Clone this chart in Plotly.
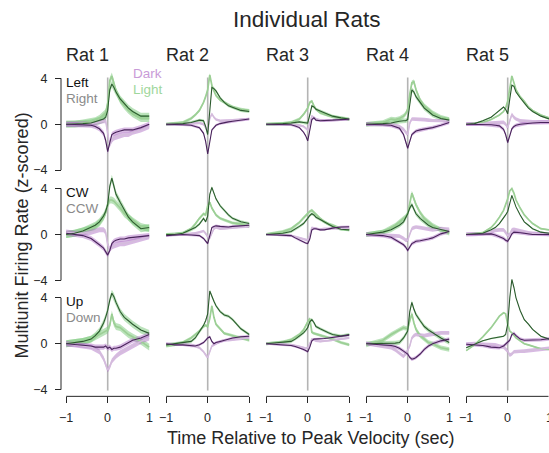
import plotly.graph_objects as go

# ---------------- data ----------------
TIME = [-1, -0.8, -0.6, -0.4, -0.3, -0.2, -0.1, -0.05, 0, 0.05, 0.1, 0.15, 0.2, 0.3, 0.4, 0.5, 0.6, 0.8, 1.0]
RATS = ["Rat 1", "Rat 2", "Rat 3", "Rat 4", "Rat 5"]
X_TICKS = [-1, 0, 1]
X_TICK_TEXT = ["\u22121", "0", "1"]
Y_TICKS = [-4, 0, 4]
Y_TICK_TEXT = ["\u22124", "0", "4"]
ROW_LABELS = [("Left", "Right"), ("CW", "CCW"), ("Up", "Down")]

# la = Light / first direction, lb = Light / second direction,
# da = Dark / first direction,  db = Dark / second direction
ROW_LEFT_RIGHT = {
    "Rat 1": {
        "la": [0, 0, 0.05, 0.1, 0.2, 0.3, 0.45, 0.6, 1.2, 3.0, 3.5, 3.2, 2.8, 2.2, 1.8, 1.4, 1.1, 0.7, 0.7],
        "lb": [0, 0, 0.1, 0.2, 0.3, 0.5, 0.8, 1.0, 1.8, 3.8, 4.2, 3.6, 2.9, 2.1, 1.6, 1.2, 0.9, 0.5, 0.5],
        "da": [0, 0, -0.05, -0.1, -0.2, -0.4, -0.8, -1.4, -2.4, -1.6, -0.9, -0.8, -0.7, -0.6, -0.5, -0.5, -0.5, -0.3, 0.0],
        "db": [0, 0, 0, 0.05, 0.1, 0.2, 0.3, 0.3, -0.8, -1.8, -1.4, -1.2, -1.1, -1.0, -0.9, -0.9, -0.7, -0.5, -0.2],
    },
    "Rat 2": {
        "la": [0, 0, 0.05, 0.15, 0.25, 0.35, 0.3, -0.2, -0.9, 1.5, 3.2, 3.1, 2.9, 2.3, 1.9, 1.6, 1.45, 1.2, 1.1],
        "lb": [0, 0.05, 0.15, 0.5, 0.8, 1.2, 1.9, 2.4, 3.0, 4.3, 3.4, 2.9, 2.5, 2.1, 1.9, 1.7, 1.5, 1.3, 1.2],
        "da": [0, 0, -0.05, -0.1, -0.2, -0.3, -0.8, -1.5, -2.6, -1.4, -0.5, -0.3, -0.1, 0.05, 0.15, 0.2, 0.25, 0.35, 0.45],
        "db": [0, 0, 0, 0.05, 0.1, 0.1, 0, -0.3, -0.6, 0.5, 0.9, 0.6, 0.4, 0.3, 0.3, 0.3, 0.35, 0.4, 0.45],
    },
    "Rat 3": {
        "la": [0, 0, 0.05, 0.1, 0.15, 0.2, 0.15, 0.1, 0.1, 0.8, 1.6, 1.5, 1.3, 1.15, 1.0, 0.85, 0.7, 0.55, 0.45],
        "lb": [0, 0, 0.05, 0.15, 0.3, 0.45, 0.85, 1.1, 1.4, 1.9, 2.0, 1.6, 1.3, 1.0, 0.85, 0.75, 0.65, 0.5, 0.4],
        "da": [0, 0, -0.05, -0.05, -0.15, -0.3, -0.7, -1.0, -1.45, -0.6, 0.4, 0.55, 0.35, 0.3, 0.3, 0.35, 0.35, 0.4, 0.43],
        "db": [0, 0, 0, 0, -0.05, -0.1, -0.2, -0.35, -0.5, 0.1, 0.7, 0.6, 0.45, 0.35, 0.3, 0.3, 0.35, 0.4, 0.43],
    },
    "Rat 4": {
        "la": [0, 0, 0.05, 0.1, 0.2, 0.25, 0.3, 0.3, 0.4, 1.8, 3.0, 2.8, 2.4, 1.9, 1.4, 1.1, 0.8, 0.5, 0.35],
        "lb": [0, 0.1, 0.15, 0.45, 0.4, 0.5, 0.7, 0.9, 1.3, 2.6, 3.6, 3.7, 3.0, 2.1, 1.6, 1.3, 1.0, 0.6, 0.4],
        "da": [0, 0, -0.05, -0.1, -0.2, -0.35, -0.9, -1.5, -2.1, -1.5, -0.9, -0.75, -0.6, -0.5, -0.45, -0.35, -0.3, -0.1, 0.15],
        "db": [0, 0, 0, -0.05, -0.1, -0.2, -0.45, -0.7, -0.9, 0.1, 0.45, 0.45, 0.45, 0.4, 0.4, 0.35, 0.3, 0.3, 0.3],
    },
    "Rat 5": {
        "la": [0, 0.05, 0.3, 0.6, 0.9, 1.2, 1.5, 1.3, 0.9, 2.2, 3.4, 3.3, 2.8, 2.3, 1.8, 1.4, 1.1, 0.7, 0.45],
        "lb": [0, 0.05, 0.15, 0.4, 0.6, 0.8, 1.1, 1.4, 2.0, 3.2, 4.2, 3.6, 3.0, 2.4, 2.0, 1.5, 1.2, 0.8, 0.55],
        "da": [0, 0, 0, -0.05, -0.1, -0.15, -0.45, -0.9, -1.6, -1.0, -0.4, -0.2, -0.1, 0, 0.05, 0.1, 0.1, 0.15, 0.15],
        "db": [0, 0, 0.05, 0.1, 0.1, 0.15, 0.15, 0.0, -0.3, 0.3, 0.85, 0.6, 0.45, 0.3, 0.25, 0.2, 0.2, 0.2, 0.2],
    },
}

ROW_CW_CCW = {
    "Rat 1": {
        "la": [0, 0.1, 0.3, 0.6, 0.8, 1.1, 1.6, 2.0, 2.6, 4.2, 4.9, 4.2, 3.5, 2.8, 2.1, 1.5, 1.1, 0.5, 0.6],
        "lb": [0, 0.1, 0.3, 0.5, 0.7, 1.0, 1.5, 1.9, 2.6, 3.0, 3.0, 2.9, 2.7, 2.3, 1.8, 1.5, 1.2, 0.7, 0.5],
        "da": [0.1, 0, -0.1, -0.35, -0.6, -0.9, -1.2, -1.5, -1.8, -1.4, -0.8, -0.6, -0.5, -0.4, -0.4, -0.3, -0.25, -0.2, -0.1],
        "db": [0.2, 0.1, 0.1, 0.2, 0.3, 0.4, 0.4, 0.2, -0.9, -1.3, -1.1, -1.0, -0.9, -0.8, -0.8, -0.7, -0.6, -0.4, -0.2],
    },
    "Rat 2": {
        "la": [0, 0, 0.1, 0.4, 0.6, 0.9, 1.4, 1.1, 1.6, 3.5, 4.1, 3.6, 3.1, 2.5, 2.1, 1.7, 1.4, 1.1, 0.95],
        "lb": [0, 0.05, 0.1, 0.5, 0.9, 1.4, 1.8, 1.7, 2.5, 2.8, 2.3, 2.0, 1.7, 1.4, 1.25, 1.1, 1.0, 0.9, 0.7],
        "da": [-0.1, -0.05, 0, -0.05, -0.05, -0.1, -0.35, -0.6, -0.8, -0.1, 0.6, 0.7, 0.75, 0.7, 0.65, 0.65, 0.7, 0.75, 0.8],
        "db": [-0.1, 0, 0, 0.05, 0.1, 0.2, 0.3, 0.1, -0.2, -0.3, 0.1, 0.5, 0.6, 0.5, 0.5, 0.55, 0.6, 0.65, 0.7],
    },
    "Rat 3": {
        "la": [0, 0.05, 0.1, 0.25, 0.45, 0.7, 0.95, 1.15, 1.4, 1.65, 1.8, 1.7, 1.5, 1.3, 1.1, 0.9, 0.7, 0.45, 0.4],
        "lb": [0, 0.1, 0.25, 0.5, 0.75, 1.05, 1.45, 1.65, 1.8, 2.0, 2.1, 1.95, 1.75, 1.4, 1.1, 0.9, 0.8, 0.5, 0.4],
        "da": [0, -0.05, -0.05, -0.1, -0.3, -0.5, -0.65, -0.75, -0.8, -0.4, 0.4, 0.5, 0.5, 0.4, 0.4, 0.5, 0.55, 0.65, 0.67],
        "db": [0, 0, -0.05, -0.1, -0.2, -0.3, -0.4, -0.5, -0.5, 0.0, 0.6, 0.55, 0.5, 0.45, 0.5, 0.5, 0.55, 0.55, 0.5],
    },
    "Rat 4": {
        "la": [0, 0.1, 0.2, 0.4, 0.6, 0.8, 1.1, 1.4, 1.8, 2.3, 2.6, 2.2, 1.8, 1.4, 1.1, 0.8, 0.6, 0.4, 0.25],
        "lb": [0, 0.1, 0.2, 0.6, 0.8, 1.1, 1.4, 1.55, 1.8, 2.9, 3.6, 3.1, 2.6, 1.9, 1.4, 1.1, 0.8, 0.4, 0.1],
        "da": [0, -0.05, -0.1, -0.25, -0.45, -0.65, -0.9, -1.1, -1.4, -1.1, -0.8, -0.7, -0.6, -0.55, -0.5, -0.4, -0.3, 0.05, 0.25],
        "db": [0, 0, -0.05, -0.1, -0.1, -0.15, -0.35, -0.5, -0.5, 0.1, 0.5, 0.6, 0.65, 0.6, 0.55, 0.45, 0.4, 0.5, 0.45],
    },
    "Rat 5": {
        "la": [0, 0.05, 0.1, 0.4, 0.6, 0.95, 1.4, 1.7, 2.0, 2.8, 3.4, 2.9, 2.4, 1.7, 1.1, 0.8, 0.5, 0.2, 0.1],
        "lb": [0, 0.05, 0.15, 0.6, 1.0, 1.5, 2.1, 2.6, 3.1, 3.8, 4.0, 3.6, 3.0, 2.3, 1.7, 1.3, 0.95, 0.5, 0.4],
        "da": [0, 0, 0.05, 0.05, -0.05, -0.2, -0.35, -0.5, -0.6, -0.3, 0.05, 0.2, 0.2, 0.15, 0.1, 0.05, 0, 0, 0],
        "db": [0, 0, 0.05, 0.2, 0.35, 0.4, 0.4, 0.2, -0.1, 0, 0.4, 0.45, 0.4, 0.3, 0.2, 0.15, 0.1, 0.05, 0],
    },
}

ROW_UP_DOWN = {
    "Rat 1": {
        "la": [0, 0.1, 0.2, 0.4, 0.7, 1.1, 1.8, 2.3, 2.9, 3.8, 4.4, 4.1, 3.6, 2.8, 2.3, 2.0, 1.7, 1.2, 0.9],
        "lb": [0, 0.1, 0.2, 0.4, 0.6, 0.8, 1.0, 1.1, 1.2, 1.6, 2.6, 1.8, 1.5, 1.4, 1.1, 0.8, 0.6, 0.2, -0.3],
        "da": [0, -0.05, -0.1, -0.2, -0.3, -0.3, -0.3, -0.2, -0.4, -0.3, -0.5, -0.4, -0.4, -0.3, -0.1, 0.1, 0.3, 0.5, 0.8],
        "db": [0, -0.1, -0.2, -0.3, -0.5, -0.7, -1.3, -1.8, -2.3, -2.0, -1.5, -1.3, -1.1, -0.8, -0.6, -0.4, -0.2, 0.2, 0.5],
    },
    "Rat 2": {
        "la": [-0.1, 0, 0.05, 0.2, 0.5, 1.0, 1.6, 2.0, 2.6, 4.6, 4.1, 3.7, 3.3, 2.8, 2.5, 2.4, 2.1, 1.3, 0.8],
        "lb": [-0.2, -0.1, 0.1, 0.5, 0.8, 1.1, 1.5, 1.6, 1.5, 2.2, 3.3, 2.3, 1.7, 1.3, 0.9, 0.8, 0.7, 0.5, 0.3],
        "da": [0, -0.1, -0.1, -0.2, -0.2, -0.1, 0.1, 0.3, 0.5, 0.6, 0.2, 0.0, 0.1, 0.2, 0.3, 0.4, 0.5, 0.6, 0.65],
        "db": [0, -0.05, -0.1, -0.1, -0.2, -0.35, -0.7, -1.0, -1.2, -0.7, -0.2, -0.1, 0, 0.2, 0.3, 0.3, 0.35, 0.45, 0.5],
    },
    "Rat 3": {
        "la": [0, 0.05, 0.1, 0.2, 0.4, 0.65, 0.95, 1.15, 1.4, 1.9, 2.1, 1.85, 1.5, 1.3, 1.1, 0.95, 0.8, 0.67, 0.8],
        "lb": [0, 0.05, 0.15, 0.35, 0.55, 0.8, 1.2, 1.6, 1.9, 2.2, 1.0, 0.9, 0.85, 0.75, 0.65, 0.5, 0.4, 0.1, -0.1],
        "da": [0, -0.05, -0.1, -0.15, -0.25, -0.35, -0.5, -0.6, -0.7, -0.3, 0.25, 0.4, 0.4, 0.45, 0.45, 0.5, 0.55, 0.65, 0.75],
        "db": [0, 0, -0.05, -0.1, -0.15, -0.25, -0.35, -0.4, -0.35, 0.0, 0.4, 0.35, 0.25, 0.2, 0.2, 0.25, 0.3, 0.4, 0.5],
    },
    "Rat 4": {
        "la": [0, 0, 0, 0, 0.05, 0.1, 0.5, 0.8, 1.1, 2.8, 3.6, 3.0, 2.55, 2.0, 1.5, 1.2, 0.95, 0.5, 0.1],
        "lb": [-0.1, 0.1, 0.3, 0.8, 1.0, 1.25, 1.4, 1.35, 1.3, 2.0, 2.6, 1.8, 1.25, 0.7, 0.4, 0.1, 0, -0.35, -0.5],
        "da": [0, -0.05, -0.1, -0.15, -0.25, -0.4, -0.65, -0.8, -0.9, -1.2, -1.35, -1.3, -1.2, -0.9, -0.5, -0.2, 0, 0.25, 0.4],
        "db": [0, -0.1, -0.2, -0.35, -0.55, -0.8, -1.1, -0.9, -0.6, -0.2, 0.5, 0.7, 0.8, 0.75, 0.7, 0.8, 0.85, 0.95, 0.95],
    },
    "Rat 5": {
        "la": [-0.35, -0.05, 0.25, 0.45, 0.5, 0.55, 0.65, 0.8, 1.7, 4.0, 5.6, 4.9, 4.0, 2.9, 2.1, 1.7, 1.25, 0.65, 0.4],
        "lb": [-0.6, -0.1, 0.6, 1.4, 1.9, 2.4, 2.7, 2.6, 1.7, 1.1, 0.95, 0.7, 0.5, 0.25, 0, -0.1, -0.2, -0.45, -0.5],
        "da": [-0.05, -0.1, -0.15, -0.3, -0.35, -0.35, -0.2, -0.05, 0.1, 0.3, 0.8, 0.9, 0.7, 0.4, 0.3, 0.3, 0.3, 0.35, 0.43],
        "db": [-0.05, 0, -0.05, -0.05, -0.1, -0.2, -0.3, -0.45, -0.65, -1.0, -0.9, -0.7, -0.7, -0.65, -0.65, -0.6, -0.55, -0.5, -0.4],
    },
}

ROWS = [ROW_LEFT_RIGHT, ROW_CW_CCW, ROW_UP_DOWN]

# standard-error half widths (light, dark) per rat
SEM = {
    "Rat 1": (0.3, 0.22),
    "Rat 2": (0.13, 0.11),
    "Rat 3": (0.13, 0.1),
    "Rat 4": (0.2, 0.16),
    "Rat 5": (0.06, 0.16),
}

# ---------------- styling / geometry ----------------
W, H = 549, 453
FONT = "Liberation Sans, Arial, Helvetica, sans-serif"
TXT = "#262626"
GREEN_BAND = "rgba(120,200,120,0.5)"
PURPLE_BAND = "rgba(178,118,200,0.5)"
LINE_STYLE = {
    "la": ("#2c5a2e", 1.1),
    "lb": ("#9ccf95", 1.7),
    "da": ("#48235a", 1.1),
    "db": ("#d4bcdc", 1.5),
}

X_ZERO_PX = [107.7 + 100 * c for c in range(5)]
X_UNIT_PX = 41.5
Y_ZERO_PX = [125, 236, 346]
Y_UNIT_PX = 11.55
Y_RANGE = [-4.4, 6.2]
X_PAD = 1.1
X_AXIS_PX = 399
X_LABEL_PX = 421


def px_x(p):
    return p / W


def px_y(p):
    return 1 - p / H


fig = go.Figure()
layout = dict(
    width=W, height=H,
    margin=dict(l=0, r=0, t=0, b=0),
    paper_bgcolor="white", plot_bgcolor="rgba(0,0,0,0)",
    showlegend=False,
    font=dict(family=FONT, color=TXT, size=12),
)
shapes = []
annotations = []

for r, row in enumerate(ROWS):
    for c, rat in enumerate(RATS):
        idx = r * 5 + c + 1
        xa = "x" if idx == 1 else f"x{idx}"
        ya = "y" if idx == 1 else f"y{idx}"
        series = row[rat]
        sem_light, sem_dark = SEM[rat]

        # bands
        for key in ["la", "lb", "da", "db"]:
            s = sem_light if key.startswith("l") else sem_dark
            band = GREEN_BAND if key.startswith("l") else PURPLE_BAND
            vals = series[key]
            upper = [v + s for v in vals]
            lower = [v - s for v in vals]
            fig.add_trace(go.Scatter(
                x=TIME + TIME[::-1], y=upper + lower[::-1],
                fill="toself", fillcolor=band, line=dict(width=0),
                mode="lines", hoverinfo="skip", xaxis=xa, yaxis=ya))
        # mean lines
        for key in ["lb", "db", "la", "da"]:
            col, wd = LINE_STYLE[key]
            fig.add_trace(go.Scatter(
                x=TIME, y=series[key], mode="lines",
                line=dict(color=col, width=wd), xaxis=xa, yaxis=ya))

        # axes
        zx = X_ZERO_PX[c]
        left_px = zx - X_PAD * X_UNIT_PX
        right_px = min(zx + X_PAD * X_UNIT_PX, W)
        xr = [(left_px - zx) / X_UNIT_PX, (right_px - zx) / X_UNIT_PX]
        zy = Y_ZERO_PX[r]
        top_px = zy - Y_RANGE[1] * Y_UNIT_PX
        bot_px = zy - Y_RANGE[0] * Y_UNIT_PX

        xkey = "xaxis" if idx == 1 else f"xaxis{idx}"
        ykey = "yaxis" if idx == 1 else f"yaxis{idx}"
        xdict = dict(domain=[px_x(left_px), px_x(right_px)], range=xr,
                     showgrid=False, zeroline=False, showline=False, fixedrange=True)
        ydict = dict(domain=[px_y(bot_px), px_y(top_px)], range=Y_RANGE,
                     showgrid=False, zeroline=False, showline=False, fixedrange=True)
        if r == 2:
            xdict.update(anchor="free", position=px_y(X_AXIS_PX), ticks="outside", ticklen=6,
                         tickwidth=1, tickcolor=TXT, tickvals=X_TICKS, showticklabels=False)
            shapes.append(dict(type="line", xref="paper", yref="paper",
                               x0=px_x(zx - X_UNIT_PX), x1=px_x(min(zx + X_UNIT_PX, W - 0.5)),
                               y0=px_y(X_AXIS_PX), y1=px_y(X_AXIS_PX), line=dict(color=TXT, width=1)))
            # tick labels placed below the offset spine
            for tv, tt in zip(X_TICKS, X_TICK_TEXT):
                annotations.append(dict(text=tt, x=px_x(zx + tv * X_UNIT_PX), y=px_y(X_LABEL_PX),
                                        xref="paper", yref="paper", showarrow=False,
                                        xanchor="center", yanchor="middle",
                                        font=dict(size=12.5, color=TXT)))
        else:
            xdict.update(showticklabels=False, ticks="", anchor=ya)
        if c == 0:
            ydict.update(anchor="free", position=px_x(61), ticks="outside", ticklen=6,
                         tickwidth=1, tickcolor=TXT, tickvals=Y_TICKS, ticktext=Y_TICK_TEXT,
                         ticklabelstandoff=5,
                         tickfont=dict(size=12.5, color=TXT))
            shapes.append(dict(type="line", xref="paper", yref="paper",
                               x0=px_x(61), x1=px_x(61),
                               y0=px_y(zy + 4 * Y_UNIT_PX), y1=px_y(zy - 4 * Y_UNIT_PX),
                               line=dict(color=TXT, width=1)))
        else:
            ydict.update(showticklabels=False, ticks="", anchor=xa)
        layout[xkey] = xdict
        layout[ykey] = ydict

# zero (peak velocity) reference lines, one per column
for c in range(5):
    xa = "x" if c == 0 else f"x{c + 1}"
    shapes.append(dict(type="line", xref=xa, yref="paper", x0=0, x1=0,
                       y0=px_y(393), y1=px_y(78), layer="below",
                       line=dict(color="#b4b4b4", width=1.6)))

# titles
annotations.append(dict(text="Individual Rats", x=px_x(307), y=px_y(20), xref="paper", yref="paper",
                        showarrow=False, font=dict(size=22.5, color=TXT), xanchor="center", yanchor="middle"))
for c, rat in enumerate(RATS):
    annotations.append(dict(text=rat, x=px_x(X_ZERO_PX[c] - X_UNIT_PX - 2), y=px_y(55),
                            xref="paper", yref="paper", showarrow=False, xanchor="left",
                            yanchor="middle", font=dict(size=18, color=TXT)))
annotations.append(dict(text="Multiunit Firing Rate (z-scored)", x=px_x(22), y=px_y(237),
                        xref="paper", yref="paper", showarrow=False, textangle=-90,
                        font=dict(size=18, color=TXT), xanchor="center", yanchor="middle"))
annotations.append(dict(text="Time Relative to Peak Velocity (sec)", x=px_x(310), y=px_y(441),
                        xref="paper", yref="paper", showarrow=False,
                        font=dict(size=18, color=TXT), xanchor="center", yanchor="middle"))

# direction labels
for r, (a, b) in enumerate(ROW_LABELS):
    zy = Y_ZERO_PX[r]
    annotations.append(dict(text=a, x=px_x(64), y=px_y(zy - 42), xref="paper", yref="paper",
                            showarrow=False, xanchor="left", yanchor="middle",
                            font=dict(size=13.5, color="#111111")))
    annotations.append(dict(text=b, x=px_x(64), y=px_y(zy - 26), xref="paper", yref="paper",
                            showarrow=False, xanchor="left", yanchor="middle",
                            font=dict(size=13.5, color="#8a8a8a")))
annotations.append(dict(text="Dark", x=px_x(131), y=px_y(74), xref="paper", yref="paper",
                        showarrow=False, xanchor="left", yanchor="middle",
                        font=dict(size=13.5, color="#c99bd8")))
annotations.append(dict(text="Light", x=px_x(131), y=px_y(90), xref="paper", yref="paper",
                        showarrow=False, xanchor="left", yanchor="middle",
                        font=dict(size=13.5, color="#9fd79c")))

layout["shapes"] = shapes
layout["annotations"] = annotations
fig.update_layout(**layout)
fig.write_html("out.html", config={"displayModeBar": False},
               post_script="document.body.style.margin='0';document.body.style.overflow='hidden';")
